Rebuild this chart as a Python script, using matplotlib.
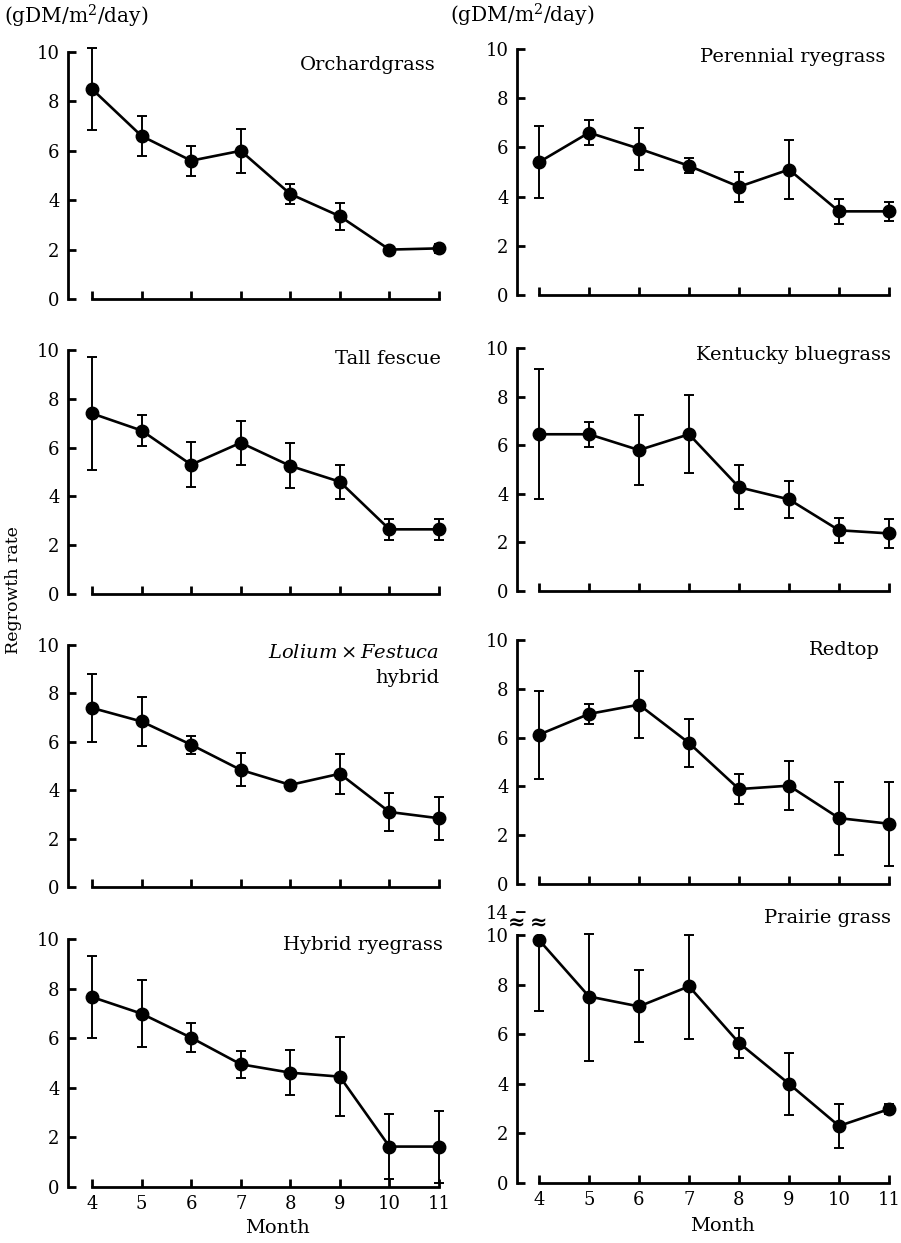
import matplotlib.pyplot as plt

plt.rcParams['font.family'] = 'DejaVu Serif'
plt.rcParams['mathtext.fontset'] = 'dejavuserif'

months = [4, 5, 6, 7, 8, 9, 10, 11]
month_labels = ['4', '5', '6', '7', '8', '9', '10', '11']

# regrowth rate (gDM/m2/day) and error bar half-widths
orchardgrass = [8.5, 6.6, 5.6, 6.0, 4.25, 3.35, 2.0, 2.05]
orchardgrass_err = [1.65, 0.8, 0.6, 0.9, 0.4, 0.55, 0.1, 0.18]

perennial_ryegrass = [5.4, 6.6, 5.95, 5.25, 4.4, 5.1, 3.4, 3.4]
perennial_ryegrass_err = [1.45, 0.5, 0.85, 0.3, 0.6, 1.2, 0.5, 0.4]

tall_fescue = [7.4, 6.7, 5.3, 6.2, 5.25, 4.6, 2.65, 2.65]
tall_fescue_err = [2.3, 0.63, 0.92, 0.9, 0.92, 0.69, 0.42, 0.44]

kentucky_bluegrass = [6.45, 6.45, 5.8, 6.45, 4.27, 3.77, 2.5, 2.37]
kentucky_bluegrass_err = [2.67, 0.52, 1.45, 1.6, 0.9, 0.75, 0.52, 0.59]

lolium_festuca = [7.4, 6.84, 5.88, 4.84, 4.22, 4.68, 3.1, 2.84]
lolium_festuca_err = [1.4, 1.0, 0.38, 0.68, 0.1, 0.83, 0.8, 0.88]

redtop = [6.12, 6.97, 7.35, 5.78, 3.89, 4.03, 2.7, 2.47]
redtop_err = [1.8, 0.42, 1.37, 0.97, 0.62, 1.0, 1.5, 1.73]

hybrid_ryegrass = [7.66, 6.99, 6.02, 4.95, 4.61, 4.45, 1.63, 1.63]
hybrid_ryegrass_err = [1.66, 1.35, 0.58, 0.55, 0.9, 1.6, 1.3, 1.45]

prairie_grass = [9.8, 7.52, 7.12, 7.93, 5.65, 4.0, 2.3, 2.98]
prairie_grass_err = [2.85, 2.62, 1.45, 2.14, 0.6, 1.25, 0.9, 0.2]

W, H = 901, 1243
fig = plt.figure(figsize=(W / 100, H / 100), dpi=100)
TS = 14


def squash(v):
    # axis break above 10 (10 -> 14 compressed)
    return v if v <= 10 else 10 + (v - 10) * 0.235


def panel(x4, x11, y0, y10, xlo, vals, errs, bottom_row=False, broken=False):
    xhi, yhi = 11.15, 11.4
    sx = (x11 - x4) / 7.0
    sy = (y0 - y10) / 10.0
    left = x4 + (xlo - 4) * sx
    ax = fig.add_axes([left / W, 1 - y0 / H, (xhi - xlo) * sx / W, yhi * sy / H])
    ax.set_xlim(xlo, xhi)
    ax.set_ylim(0, yhi)
    if broken:
        lo = [v - e for v, e in zip(vals, errs)]
        hi = [squash(v + e) for v, e in zip(vals, errs)]
        pv = [squash(v) for v in vals]
        yerr = [[p - l for p, l in zip(pv, lo)], [h - p for h, p in zip(hi, pv)]]
        ax.errorbar(months, pv, yerr=yerr, fmt='-o', color='k', lw=1.9, ms=9,
                    elinewidth=1.4, capsize=3.5, capthick=1.4, clip_on=False, zorder=3)
    else:
        ax.errorbar(months, vals, yerr=errs, fmt='-o', color='k', lw=1.9, ms=9,
                    elinewidth=1.4, capsize=3.5, capthick=1.4, clip_on=False, zorder=3)
    for s in ['top', 'right']:
        ax.spines[s].set_visible(False)
    for s in ['left', 'bottom']:
        ax.spines[s].set_linewidth(2.0)
    ax.spines['bottom'].set_bounds(4, 11)
    if broken:
        top = squash(14)
        ax.spines['left'].set_bounds(0, top)
        ax.set_yticks([0, 2, 4, 6, 8, 10, top])
        ax.set_yticklabels(['0', '2', '4', '6', '8', '10', '14'])
        for xb in [xlo, 4]:
            ax.text(xb, 10.47, '\u2248', ha='center', va='center', fontsize=15,
                    fontweight='bold', zorder=5,
                    bbox=dict(fc='white', ec='none', pad=0.3))
    else:
        ax.spines['left'].set_bounds(0, 10)
        ax.set_yticks([0, 2, 4, 6, 8, 10])
    ax.set_xticks(months)
    ax.set_xticklabels(month_labels)
    ax.tick_params(direction='in', length=6, width=2.0, labelsize=13, pad=6)
    ax.tick_params(axis='x', labelbottom=bottom_row)
    ax.patch.set_visible(False)
    return ax


ax = panel(92, 439, 299, 52, 3.516, orchardgrass, orchardgrass_err)
ax.text(10.93, 9.47, 'Orchardgrass', ha='right', va='center', fontsize=TS)

ax = panel(539, 889, 295, 49, 3.56, perennial_ryegrass, perennial_ryegrass_err)
ax.text(10.93, 9.69, 'Perennial ryegrass', ha='right', va='center', fontsize=TS)

ax = panel(92, 439, 594, 350, 3.516, tall_fescue, tall_fescue_err)
ax.text(11.03, 9.64, 'Tall fescue', ha='right', va='center', fontsize=TS)

ax = panel(539, 889, 591, 348, 3.56, kentucky_bluegrass, kentucky_bluegrass_err)
ax.text(11.03, 9.71, 'Kentucky bluegrass', ha='right', va='center', fontsize=TS)

ax = panel(92, 439, 887, 645, 3.516, lolium_festuca, lolium_festuca_err)
ax.text(11.0, 9.67, r'$\mathit{Lolium}\times\mathit{Festuca}$', ha='right', va='center', fontsize=TS)
ax.text(11.0, 8.63, 'hybrid', ha='right', va='center', fontsize=TS)

ax = panel(539, 889, 884, 640, 3.56, redtop, redtop_err)
ax.text(10.82, 9.6, 'Redtop', ha='right', va='center', fontsize=TS)

ax = panel(92, 439, 1187, 939, 3.516, hybrid_ryegrass, hybrid_ryegrass_err, bottom_row=True)
ax.text(11.08, 9.75, 'Hybrid ryegrass', ha='right', va='center', fontsize=TS)

ax = panel(539, 889, 1183, 935, 3.56, prairie_grass, prairie_grass_err, bottom_row=True, broken=True)
ax.text(11.05, 10.69, 'Prairie grass', ha='right', va='center', fontsize=TS)

fig.text(4 / W, 1 - 16 / H, '(gDM/m$^2$/day)', va='center', ha='left', fontsize=14.5)
fig.text(450 / W, 1 - 15 / H, '(gDM/m$^2$/day)', va='center', ha='left', fontsize=14.5)
fig.text(14 / W, 1 - 590 / H, 'Regrowth rate', rotation=90, va='center', ha='center', fontsize=12.5)
fig.text(277 / W, 1 - 1228 / H, 'Month', va='center', ha='center', fontsize=14)
fig.text(722 / W, 1 - 1226 / H, 'Month', va='center', ha='center', fontsize=14)

fig.savefig('out.png', dpi=100)
